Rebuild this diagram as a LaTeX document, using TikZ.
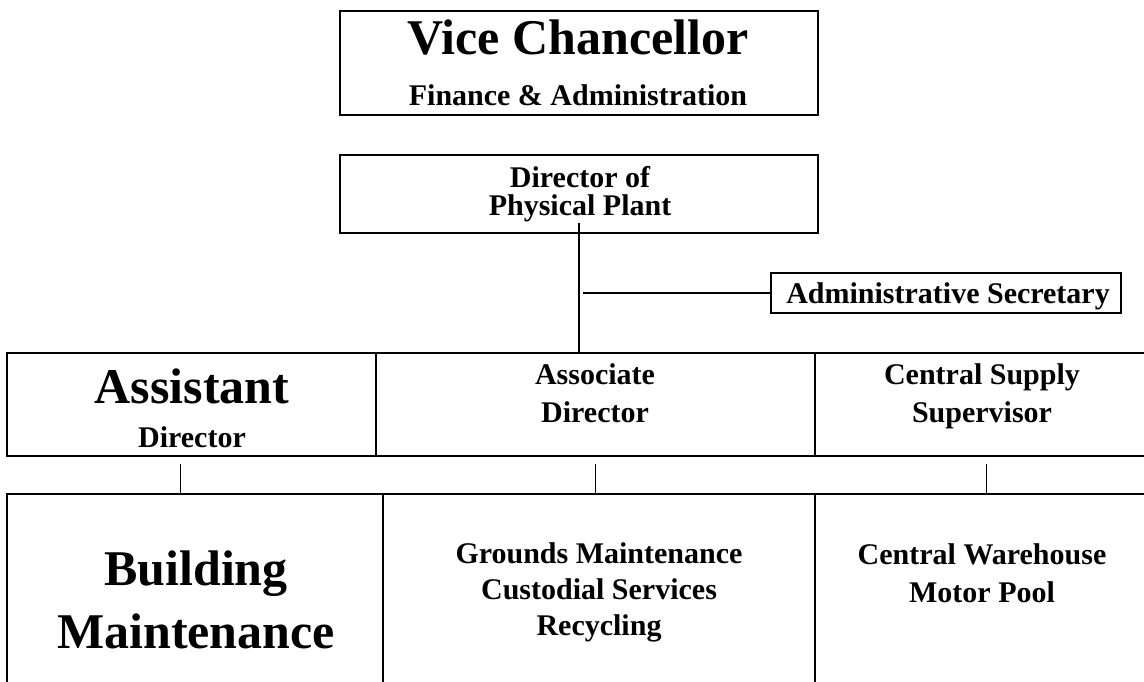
\documentclass[tikz,border=0pt]{standalone}
\usepackage{fontspec}
\setmainfont{Liberation Serif}
\newcommand{\titlefont}{\fontsize{37.5}{45}\selectfont}

\begin{document}
\begin{tikzpicture}[x=0.75pt, y=-0.75pt,
  box/.style={draw, rectangle, line width=1.5pt, inner sep=0pt, outer sep=0pt},
  txt/.style={align=center, anchor=base, inner sep=0pt},
  link/.style={line width=1pt},
  tick/.style={line width=0.75pt}]

\useasboundingbox (0,0) rectangle (1144,681);
\clip (0,0) rectangle (1144,681);

% top of the chart
\node (vc) [box, minimum width=358.5pt, minimum height=78pt] at (579, 63) {};
\node (vc-t) [txt, font={\bfseries\fontsize{22.5}{38.25}\selectfont}] at (578, 106) {{\titlefont Vice Chancellor} \\ Finance \& Administration};

\node (dir) [box, minimum width=358.5pt, minimum height=58.5pt] at (579, 194) {};
\node (dir-t) [txt, font={\bfseries\fontsize{22.5}{21}\selectfont}] at (580, 215) {Director of \\ Physical Plant};

\node (sec) [box, minimum width=262.5pt, minimum height=30pt] at (946, 293) {};
\node (sec-t) [txt, font={\bfseries\fontsize{22.5}{27}\selectfont}] at (948, 303) {Administrative Secretary};

% middle row
\node (asst) [box, minimum width=276.75pt, minimum height=77.25pt] at (191.5, 404.5) {};
\node (asst-t) [txt, font={\bfseries\fontsize{22.5}{33}\selectfont}] at (192, 447) {{\titlefont Assistant} \\ Director};

\node (assoc) [box, minimum width=329.25pt, minimum height=77.25pt] at (595.5, 404.5) {};
\node (assoc-t) [txt, font={\bfseries\fontsize{22.5}{28.5}\selectfont}] at (595, 422) {Associate \\ Director};

\node (supply) [box, minimum width=256.5pt, minimum height=77.25pt] at (986, 404.5) {};
\node (supply-t) [txt, font={\bfseries\fontsize{22.5}{28.5}\selectfont}] at (982, 422) {Central Supply \\ Supervisor};

% bottom row, runs off the page
\node (build) [box, minimum width=282pt, minimum height=154.5pt] at (195, 597) {};
\node (build-t) [txt, font={\bfseries\fontsize{37.5}{47.25}\selectfont}] at (196, 648) {Building \\ Maintenance};

\node (grounds) [box, minimum width=324pt, minimum height=154.5pt] at (599, 597) {};
\node (grounds-t) [txt, font={\bfseries\fontsize{22.5}{27}\selectfont}] at (599, 635) {Grounds Maintenance \\ Custodial Services \\ Recycling};

\node (ware) [box, minimum width=256.5pt, minimum height=154.5pt] at (986, 597) {};
\node (ware-t) [txt, font={\bfseries\fontsize{22.5}{28.5}\selectfont}] at (982, 602) {Central Warehouse \\ Motor Pool};

% connectors
\draw [link] ([yshift=7.5pt]dir.south) -- (dir.south |- asst.north);
\draw [link] ([xshift=3pt]dir.south |- sec.west) -- (sec.west);
\draw [tick] ([xshift=-8.6pt, yshift=-6pt]asst.south) -- ([xshift=-8.6pt]asst.south |- build.north);
\draw [tick] ([yshift=-6pt]assoc.south) -- (assoc.south |- grounds.north);
\draw [tick] ([yshift=-6pt]supply.south) -- (supply.south |- ware.north);

\end{tikzpicture}
\end{document}
